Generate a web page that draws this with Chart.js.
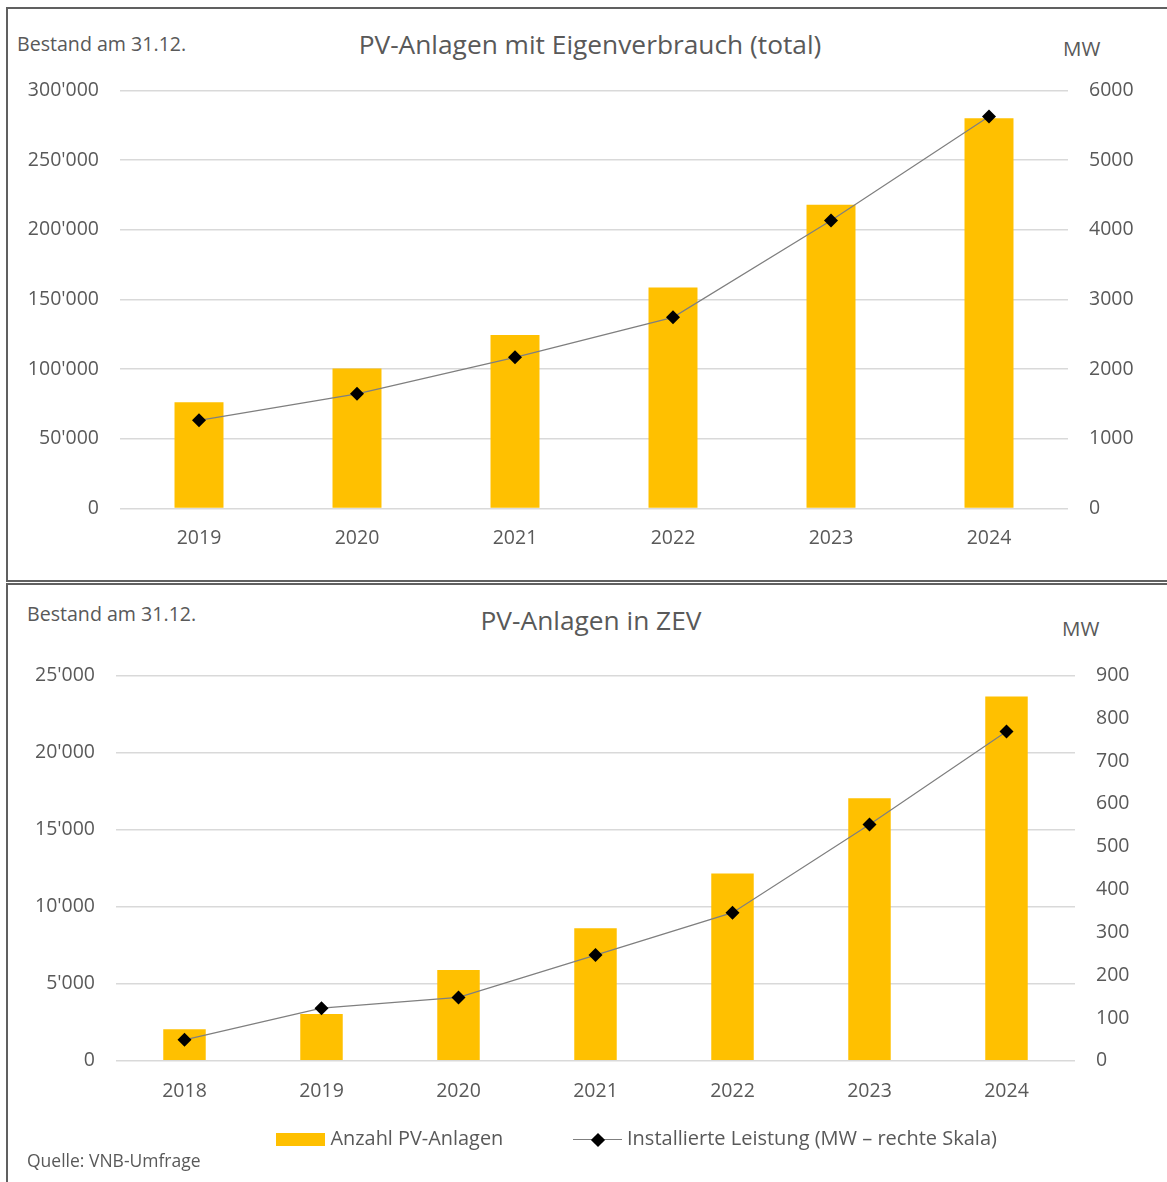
<!DOCTYPE html>
<html>
<head>
<meta charset="utf-8">
<title>PV-Anlagen mit Eigenverbrauch</title>
<script src="https://cdn.jsdelivr.net/npm/chart.js@4.4.1/dist/chart.umd.min.js"></script>
<style>
  html, body { margin: 0; padding: 0; background: #fff; }
  body { width: 1167px; height: 1182px; position: relative; overflow: hidden;
         font-family: "Open Sans", sans-serif; color: #595959; }
  .box { position: absolute; border: 2px solid #606060; box-sizing: content-box; }
  .t { position: absolute; white-space: nowrap; line-height: 1; }
  .wrap { position: absolute; }
  .swatch { position: absolute; background: #FFC000; }
  .lineSw { position: absolute; height: 1px; background: #7f7f7f; }
  .diam { position: absolute; width: 10px; height: 10px; background: #000; transform: rotate(45deg); }
</style>
</head>
<body>
<div class="box" style="left:6px;top:7px;width:1200px;height:571px;"></div>
<div class="box" style="left:6px;top:583px;width:1200px;height:700px;"></div>

<div class="t" style="left:17px;top:34.3px;font-size:19.6px;">Bestand am 31.12.</div>
<div class="t" id="title1" style="left:190px;width:800px;text-align:center;top:31px;font-size:26.3px;"></div>
<div class="t" style="left:1063px;top:38.2px;font-size:20.5px;">MW</div>

<div class="t" style="left:27px;top:604.1px;font-size:19.6px;">Bestand am 31.12.</div>
<div class="t" id="title2" style="left:191px;width:800px;text-align:center;top:607px;font-size:26.3px;"></div>
<div class="t" style="left:1062px;top:618.2px;font-size:20.5px;">MW</div>

<div class="wrap" style="left:0;top:0;width:1167px;height:580px;"><canvas id="c1"></canvas></div>
<div class="wrap" style="left:0;top:583px;width:1167px;height:599px;"><canvas id="c2"></canvas></div>

<div class="swatch" style="left:276px;top:1133px;width:49px;height:12.5px;"></div>
<div class="t" id="leg1" style="left:330.5px;top:1128.2px;font-size:19.9px;"></div>
<div class="lineSw" style="left:573px;top:1139px;width:49px;"></div>
<div class="diam" style="left:593px;top:1134.5px;"></div>
<div class="t" id="leg2" style="left:627px;top:1128.2px;font-size:20px;"></div>

<div class="t" style="left:27px;top:1152px;font-size:17.5px;">Quelle: VNB-Umfrage</div>

<script>
// Chart titles and series names
const title1 = 'PV-Anlagen mit Eigenverbrauch (total)';
const title2 = 'PV-Anlagen in ZEV';
const barLabel = 'Anzahl PV-Anlagen';
const lineLabel = 'Installierte Leistung (MW \u2013 rechte Skala)';

// Self-consumption systems, total (stock at 31.12.)
const years1 = ['2019', '2020', '2021', '2022', '2023', '2024'];
const count1 = [76300, 100500, 124500, 158700, 218000, 280000];
const mw1 = [1265, 1646, 2170, 2744, 4134, 5627];

// Systems in ZEV (self-consumption communities)
const years2 = ['2018', '2019', '2020', '2021', '2022', '2023', '2024'];
const count2 = [2050, 3040, 5890, 8600, 12150, 17030, 23640];
const mw2 = [49, 123, 148, 247, 346, 552, 769];

// Axis ranges
const left1 = { max: 300000, step: 50000 };
const right1 = { max: 6000, step: 1000 };
const left2 = { max: 25000, step: 5000 };
const right2 = { max: 900, step: 100 };

document.getElementById('title1').textContent = title1;
document.getElementById('title2').textContent = title2;
document.getElementById('leg1').textContent = barLabel;
document.getElementById('leg2').textContent = lineLabel;

const TXT = '#595959';
const tickFont = { family: 'Open Sans', size: 19.5 };
const thousands = v => String(v).replace(/\B(?=(\d{3})+(?!\d))/g, "'");

function makeChart(id, cats, counts, mws, left, right, geo) {
  return new Chart(document.getElementById(id), {
    data: {
      labels: cats,
      datasets: [
        {
          type: 'line', label: lineLabel, data: mws, yAxisID: 'y1', order: 0,
          borderColor: '#7f7f7f', borderWidth: 1.2, tension: 0,
          pointStyle: 'rectRot', pointRadius: 7, pointHoverRadius: 7,
          pointBackgroundColor: '#000', pointBorderColor: '#000', pointBorderWidth: 0
        },
        {
          type: 'bar', label: barLabel, data: counts, yAxisID: 'y', order: 1,
          backgroundColor: '#FFC000', borderWidth: 0,
          categoryPercentage: 1, barPercentage: 0.31
        }
      ]
    },
    options: {
      responsive: true, maintainAspectRatio: false, animation: false,
      layout: { padding: { top: geo.top, left: 0, right: 0, bottom: 0 } },
      plugins: { legend: { display: false }, title: { display: false }, tooltip: { enabled: false } },
      events: [],
      scales: {
        x: {
          grid: { display: false, drawTicks: false }, border: { display: false },
          ticks: { color: TXT, font: tickFont, padding: geo.xpad, maxRotation: 0 },
          afterFit: s => { s.height = geo.xh; }
        },
        y: {
          position: 'left', min: 0, max: left.max,
          grid: { color: '#d9d9d9', lineWidth: 1.5, drawTicks: false }, border: { display: false },
          ticks: { stepSize: left.step, color: TXT, font: tickFont, padding: 21, callback: v => thousands(v) },
          afterFit: s => { s.width = geo.lw; }
        },
        y1: {
          position: 'right', min: 0, max: right.max,
          grid: { display: false, drawTicks: false }, border: { display: false },
          ticks: { stepSize: right.step, color: TXT, font: tickFont, padding: 21, callback: v => String(v) },
          afterFit: s => { s.width = geo.rw; }
        }
      }
    }
  });
}

makeChart('c1', years1, count1, mw1, left1, right1, { top: 90.5, xh: 71.5, lw: 120, rw: 99, xpad: 18 });
makeChart('c2', years2, count2, mw2, left2, right2, { top: 92.5, xh: 121.2, lw: 116, rw: 92, xpad: 19 });
</script>
</body>
</html>
